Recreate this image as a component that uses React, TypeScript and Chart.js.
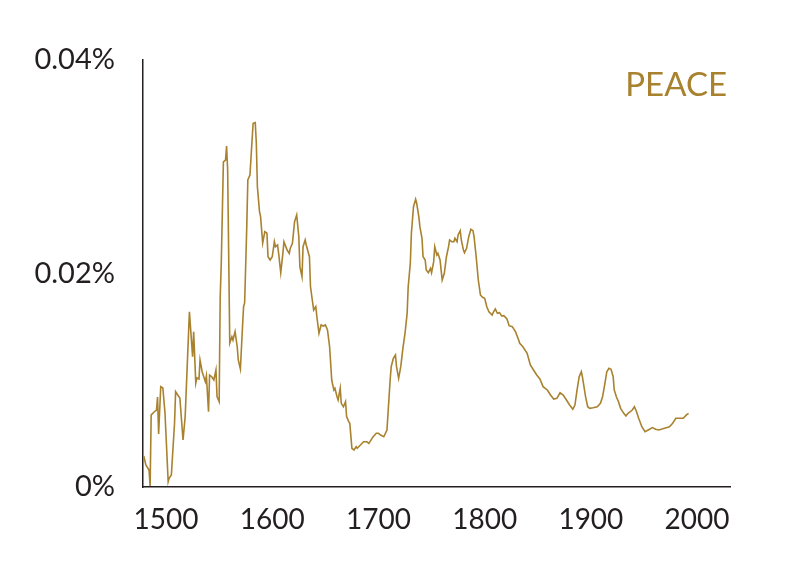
import { useEffect, useRef } from "react";
import { Chart, registerables, type ChartConfiguration } from "chart.js";

Chart.register(...registerables);

// "peace" frequency (% of words)
const years = [
  1479, 1481, 1484, 1485, 1486, 1489, 1491, 1492, 1493, 1495, 1497, 1499,
  1502, 1503, 1505, 1508, 1509, 1511, 1513, 1516, 1518, 1522, 1525, 1526,
  1528, 1529, 1531, 1532, 1534, 1535, 1537, 1538, 1540, 1541, 1543, 1545,
  1547, 1548, 1550, 1551, 1552, 1554, 1556, 1557, 1558, 1559, 1560, 1562,
  1563, 1565, 1567, 1568, 1570, 1572, 1573, 1574, 1576, 1577, 1579, 1581,
  1582, 1584, 1585, 1586, 1588, 1589, 1591, 1593, 1595, 1596, 1598, 1600,
  1602, 1603, 1605, 1606, 1608, 1610, 1611, 1614, 1616, 1617, 1619, 1621,
  1623, 1625, 1626, 1628, 1629, 1631, 1632, 1635, 1636, 1639, 1641, 1642,
  1644, 1646, 1648, 1650, 1652, 1654, 1656, 1658, 1659, 1661, 1662, 1664,
  1665, 1667, 1669, 1670, 1672, 1673, 1675, 1677, 1679, 1680, 1683, 1686,
  1689, 1691, 1694, 1695, 1698, 1700, 1702, 1705, 1708, 1709, 1711, 1712,
  1714, 1716, 1717, 1719, 1721, 1723, 1725, 1727, 1728, 1730, 1731, 1733,
  1735, 1736, 1738, 1739, 1741, 1742, 1744, 1745, 1747, 1749, 1750, 1752,
  1753, 1755, 1756, 1758, 1760, 1762, 1764, 1766, 1767, 1769, 1771, 1772,
  1774, 1775, 1777, 1778, 1780, 1781, 1783, 1785, 1787, 1789, 1790, 1792,
  1794, 1796, 1798, 1800, 1802, 1804, 1807, 1808, 1810, 1812, 1814, 1816,
  1818, 1821, 1823, 1826, 1829, 1832, 1833, 1836, 1840, 1843, 1846, 1849,
  1852, 1855, 1859, 1862, 1865, 1868, 1871, 1874, 1877, 1880, 1883, 1885,
  1887, 1889, 1891, 1892, 1895, 1897, 1899, 1902, 1906, 1909, 1911, 1913,
  1915, 1917, 1919, 1921, 1922, 1924, 1926, 1928, 1931, 1933, 1935, 1939,
  1941, 1943, 1945, 1948, 1951, 1954, 1958, 1961, 1964, 1967, 1971, 1974,
  1977, 1980, 1983, 1987, 1990, 1992,
];

const peace = [
  0.0029, 0.00206, 0.00159, 0.00009, 0.00675, 0.00705, 0.00721, 0.00843, 0.00497, 0.0094, 0.00927, 0.00693,
  0.0005, 0.00084, 0.00112, 0.006, 0.00893, 0.00862, 0.00834, 0.0044, 0.00659, 0.01642, 0.01221, 0.01455,
  0.00974, 0.01021, 0.01012, 0.0119, 0.0108, 0.01049, 0.00986, 0.0104, 0.00705, 0.01049, 0.01033, 0.01002,
  0.01096, 0.00846, 0.00799, 0.01783, 0.02098, 0.03045, 0.03063, 0.03194, 0.0297, 0.02157, 0.01349, 0.01408,
  0.01377, 0.01455, 0.01314, 0.0119, 0.01105, 0.01502, 0.01689, 0.01724, 0.02439, 0.02876, 0.02923, 0.03251,
  0.03407, 0.03413, 0.03223, 0.02813, 0.02579, 0.02532, 0.02286, 0.02392, 0.02377, 0.02157, 0.02127, 0.02157,
  0.02298, 0.02251, 0.02267, 0.02189, 0.02008, 0.02189, 0.02298, 0.0222, 0.02189, 0.02236, 0.02283, 0.02485,
  0.02548, 0.02345, 0.02064, 0.0197, 0.02251, 0.02314, 0.02267, 0.02157, 0.01876, 0.01658, 0.01689, 0.01595,
  0.0144, 0.01518, 0.01508, 0.01518, 0.01471, 0.01314, 0.01002, 0.00909, 0.00925, 0.00846, 0.00815, 0.00925,
  0.00784, 0.00752, 0.00799, 0.00659, 0.00612, 0.00597, 0.00363, 0.00347, 0.00378, 0.00363, 0.00393, 0.00424,
  0.00424, 0.00409, 0.00456, 0.00471, 0.00503, 0.00503, 0.00487, 0.00471, 0.00534, 0.0069, 0.01002, 0.01127,
  0.01206, 0.01237, 0.01127, 0.01018, 0.01127, 0.01299, 0.0144, 0.01627, 0.01876, 0.02096, 0.02377, 0.02626,
  0.02695, 0.02658, 0.02532, 0.02439, 0.0233, 0.02157, 0.02127, 0.02033, 0.02008, 0.02049, 0.02008, 0.02111,
  0.02251, 0.02173, 0.02189, 0.02127, 0.01939, 0.02002, 0.02157, 0.02251, 0.02314, 0.02298, 0.02298, 0.0233,
  0.02298, 0.02361, 0.02401, 0.02314, 0.0222, 0.02195, 0.02236, 0.02345, 0.02414, 0.02401, 0.02345, 0.02157,
  0.01939, 0.01799, 0.01777, 0.01768, 0.01689, 0.01642, 0.01611, 0.01633, 0.01668, 0.01627, 0.01633, 0.01602,
  0.01605, 0.01574, 0.01511, 0.01502, 0.01455, 0.01377, 0.01346, 0.01314, 0.01253, 0.01143, 0.01096, 0.01049,
  0.01012, 0.0094, 0.00909, 0.00862, 0.00824, 0.00831, 0.00883, 0.00862, 0.00815, 0.00768, 0.00728, 0.00768,
  0.00909, 0.01033, 0.0108, 0.01033, 0.00846, 0.00752, 0.00737, 0.00743, 0.00752, 0.00784, 0.00846, 0.00956,
  0.0108, 0.01112, 0.01103, 0.01033, 0.00909, 0.00846, 0.00799, 0.00737, 0.0069, 0.00665, 0.0069, 0.00721,
  0.00752, 0.00705, 0.00644, 0.00565, 0.00518, 0.00534, 0.00556, 0.00541, 0.00534, 0.00543, 0.00556, 0.00565,
  0.00597, 0.00644, 0.00644, 0.00644, 0.00675, 0.0069,
];

const xTicks = [1500, 1600, 1700, 1800, 1900, 2000];
const yTicks = [0, 0.02, 0.04];
const label = "PEACE";

const GOLD = "#a8822f";
const INK = "#231f20";
const FONT = "Lato, 'Noto Sans', sans-serif";

// Schriftzug oben rechts im Plotbereich
const wordPlugin = {
  id: "word",
  afterDraw(chart: Chart) {
    const { ctx, chartArea } = chart;
    ctx.save();
    ctx.font = `33px ${FONT}`;
    ctx.fillStyle = GOLD;
    ctx.textAlign = "right";
    ctx.textBaseline = "alphabetic";
    ctx.fillText(label, chartArea.right - 3, 96);
    ctx.restore();
  },
};

export default function App() {
  const ref = useRef<HTMLCanvasElement>(null);

  useEffect(() => {
    if (!ref.current) return;
    const config: ChartConfiguration<"line"> = {
      type: "line",
      data: {
        datasets: [
          {
            label,
            data: years.map((x, i) => ({ x, y: peace[i] })),
            borderColor: GOLD,
            borderWidth: 1.6,
            pointRadius: 0,
            tension: 0,
            fill: false,
          },
        ],
      },
      options: {
        responsive: false,
        animation: false,
        layout: { padding: { top: 60, right: 60, left: 0, bottom: 0 } },
        plugins: { legend: { display: false }, tooltip: { enabled: false } },
        scales: {
          x: {
            type: "linear",
            min: 1478.3,
            max: 2031,
            afterBuildTicks: (s) => {
              s.ticks = xTicks.map((value) => ({ value }));
            },
            afterFit: (s) => {
              s.height = 89;
            },
            grid: { display: false, drawTicks: false, tickLength: 0 },
            border: { display: true, color: INK, width: 1.5 },
            ticks: {
              color: INK,
              font: { family: FONT, size: 28 },
              padding: 16,
              maxRotation: 0,
              callback: (v) => String(v),
            },
          },
          y: {
            min: 0,
            max: 0.04,
            afterBuildTicks: (s) => {
              s.ticks = yTicks.map((value) => ({ value }));
            },
            afterFit: (s) => {
              s.width = 143;
            },
            grid: { display: false, drawTicks: false, tickLength: 0 },
            border: { display: true, color: INK, width: 1.5 },
            ticks: {
              color: INK,
              font: { family: FONT, size: 29 },
              padding: 28,
              callback: (v) => (Number(v) === 0 ? "0%" : Number(v).toFixed(2) + "%"),
            },
          },
        },
      },
      plugins: [wordPlugin],
    };
    const chart = new Chart(ref.current, config);
    return () => chart.destroy();
  }, []);

  return (
    <div style={{ position: "fixed", left: 0, top: 0, width: 790, height: 576, background: "#fff" }}>
      <canvas ref={ref} width={790} height={576} />
    </div>
  );
}
